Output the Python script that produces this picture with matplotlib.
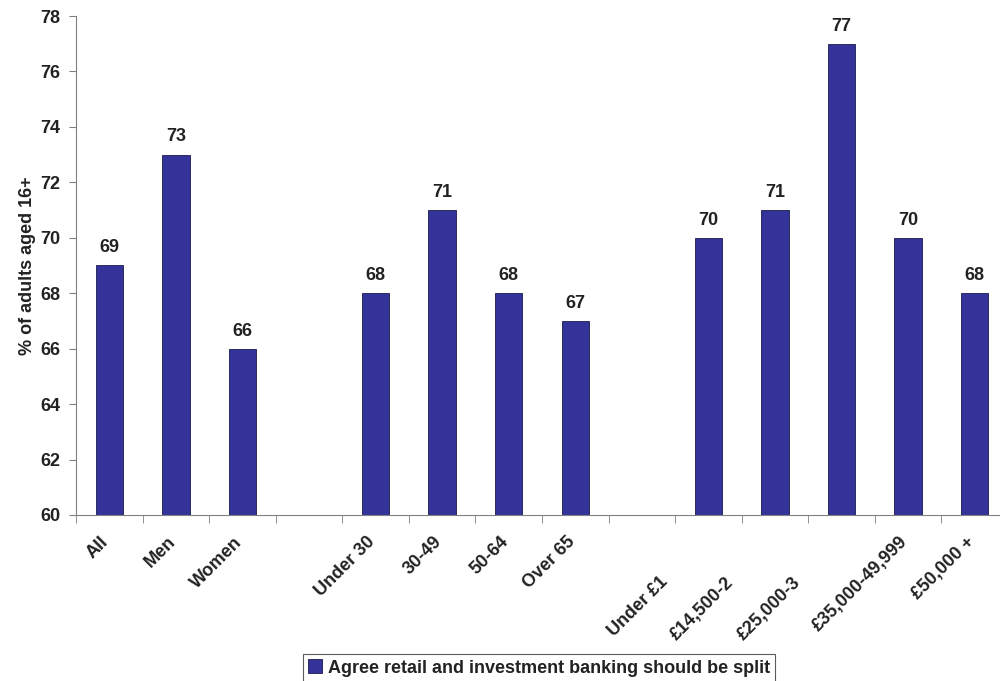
import matplotlib
matplotlib.use('Agg')
import matplotlib.pyplot as plt
import matplotlib.transforms as mtransforms
import numpy as np

categories = ['All', 'Men', 'Women', '', 'Under 30', '30-49', '50-64', 'Over 65', '',
              'Under £1', '£14,500-2', '£25,000-3', '£35,000-49,999', '£50,000 +']
values = [69, 73, 66, None, 68, 71, 68, 67, None, 70, 71, 77, 70, 68]
truncated = ['Under £1', '£14,500-2', '£25,000-3']
series_name = 'Agree retail and investment banking should be split'

plt.rcParams['font.family'] = ['Liberation Sans', 'DejaVu Sans']
plt.rcParams['font.weight'] = 'bold'
txt = '#222222'
bar_color = '#333399'

fig = plt.figure(figsize=(10, 6.81), dpi=100)
ax = fig.add_axes([0.076, 0.2438, 0.932, 0.7327])

x = np.arange(len(categories))
for xi, v in zip(x, values):
    if v is None:
        continue
    ax.bar(xi, v - 60, bottom=60, width=0.41, color=bar_color, edgecolor='#1a1a4d', linewidth=0.6)
    ax.text(xi, v + 0.33, str(v), ha='center', va='bottom', fontsize=13, fontweight='bold', color=txt)

ax.set_xlim(-0.5, len(categories) - 0.5)
ax.set_ylim(60, 78)
ax.set_yticks(np.arange(60, 79, 2))
ax.tick_params(axis='y', labelsize=13, colors='#808080', labelcolor=txt, length=5, direction='out', pad=6)

ax.set_xticks(x)
ax.set_xticklabels(categories, rotation=45, ha='right', va='baseline', rotation_mode='anchor',
                   fontsize=13, color=txt)
ax.set_xticks(np.arange(-0.5, len(categories), 1), minor=True)
ax.tick_params(axis='x', which='major', length=0, pad=20)
ax.tick_params(axis='x', which='minor', length=6, colors='#808080', direction='out')

# the three income labels are cut short in the original, so pull them back along the slant
offset = mtransforms.ScaledTranslation(-29 / 72, -29 / 72, fig.dpi_scale_trans)
for lab in ax.get_xticklabels():
    if lab.get_text() in truncated:
        lab.set_transform(lab.get_transform() + offset)

for s in ['top', 'right']:
    ax.spines[s].set_visible(False)
for s in ['left', 'bottom']:
    ax.spines[s].set_color('#808080')

ax.set_ylabel('% of adults aged 16+', fontsize=13, fontweight='bold', color=txt, labelpad=3)

handle = plt.Rectangle((0, 0), 1, 1, facecolor=bar_color, edgecolor='#1a1a4d', linewidth=0.6)
leg = fig.legend([handle], [series_name], loc='upper center', bbox_to_anchor=(0.539, 1 - 654 / 681),
                 bbox_transform=fig.transFigure, fancybox=False, frameon=True, fontsize=13,
                 handlelength=0.8, handleheight=0.8, handletextpad=0.3, borderpad=0.3, borderaxespad=0)
leg.get_frame().set_edgecolor('#333333')
leg.get_frame().set_linewidth(0.8)
for t in leg.get_texts():
    t.set_color(txt)
    t.set_fontweight('bold')

plt.savefig('out.png', dpi=100)
